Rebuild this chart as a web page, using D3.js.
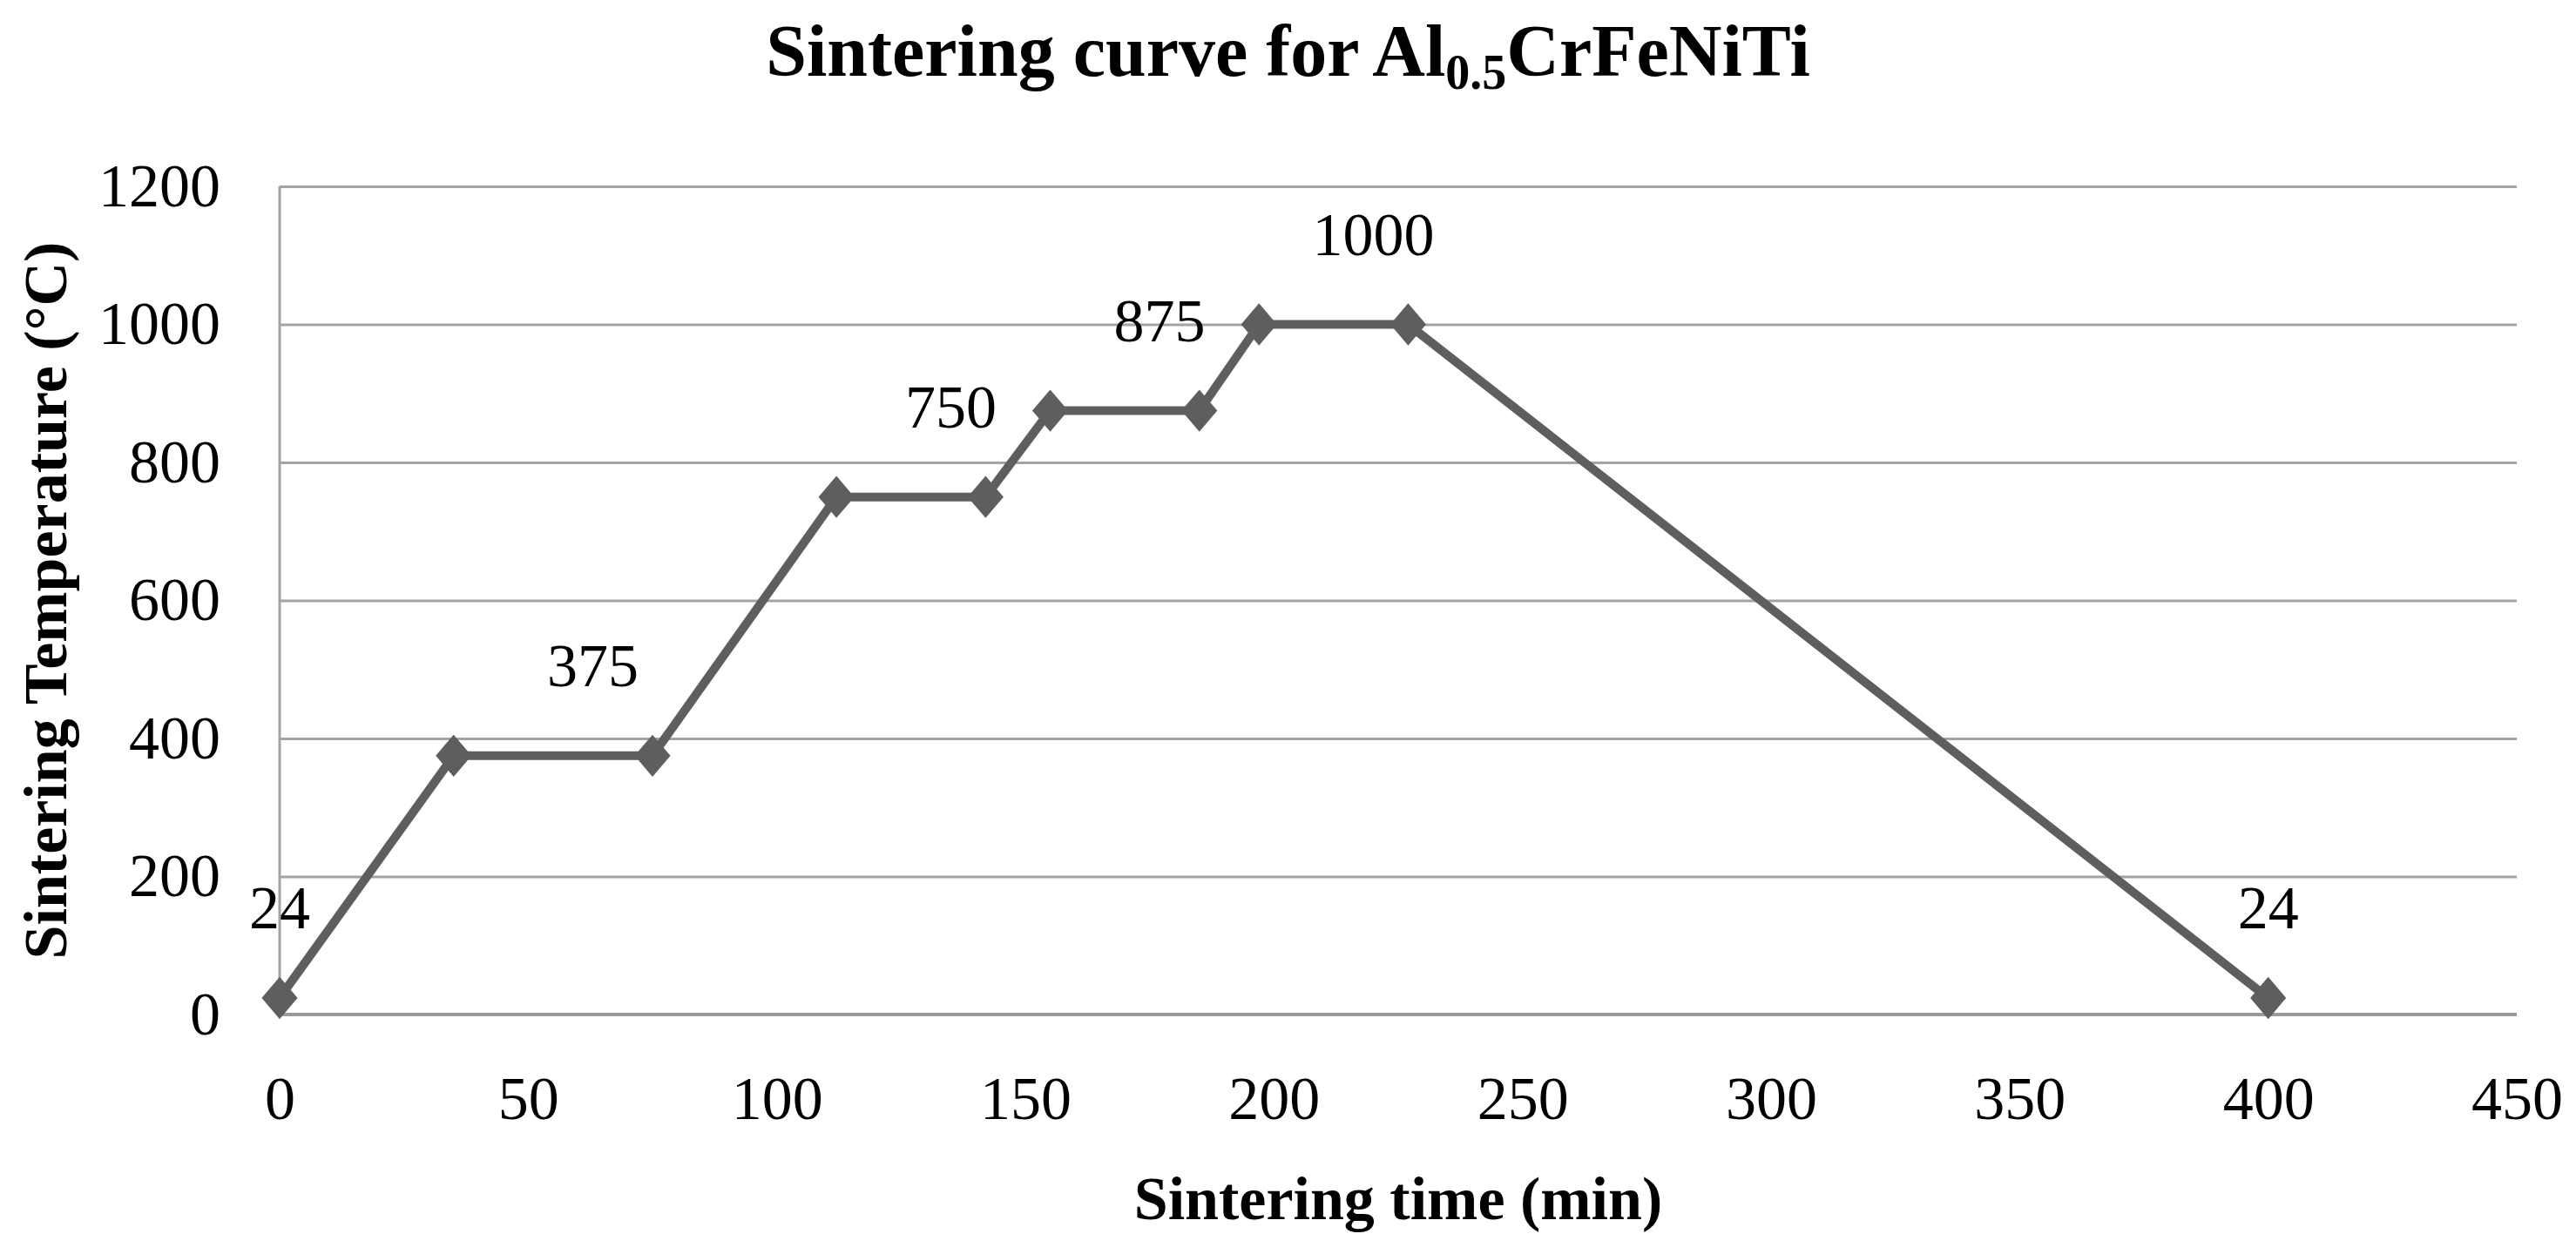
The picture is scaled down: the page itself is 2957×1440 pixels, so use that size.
<!DOCTYPE html>
<html>
<head>
<meta charset="utf-8">
<script src="https://cdn.jsdelivr.net/npm/d3@7"></script>
<style>
  body { margin: 0; background: #fff; }
  text { font-family: "Liberation Serif", "Times New Roman", serif; fill: #000; }
</style>
</head>
<body>
<script>
// sintering schedule
let times = [0, 35, 75, 112, 142, 155, 185, 197, 227, 400];
let temps = [24, 375, 375, 750, 750, 875, 875, 1000, 1000, 24];

// data labels (where they sit along time) and their text values
let labelTimes = [0, 63, 135, 177, 220, 400];
let labelTemps = [24, 375, 750, 875, 1000, 24];

let xTicks = [0, 50, 100, 150, 200, 250, 300, 350, 400, 450];
let yTicks = [0, 200, 400, 600, 800, 1000, 1200];

let W = 2957, H = 1440;
let plotLeft = 321, plotRight = 2889, plotTop = 214, plotBottom = 1165;

let svg = d3.select("body").append("svg")
  .attr("width", W).attr("height", H);

let x = d3.scaleLinear().domain([0, 450]).range([plotLeft, plotRight]);
let y = d3.scaleLinear().domain([0, 1200]).range([plotBottom, plotTop]);

// horizontal gridlines
let grid = svg.append("g").attr("transform", "translate(" + plotLeft + ",0)")
  .call(d3.axisLeft(y).tickValues(yTicks).tickSize(-(plotRight - plotLeft)).tickFormat(""));
grid.select(".domain").remove();
grid.selectAll("line").attr("stroke", "#a3a3a3").attr("stroke-width", 3);

// left axis line
svg.append("line")
  .attr("x1", plotLeft).attr("x2", plotLeft).attr("y1", plotTop).attr("y2", plotBottom)
  .attr("stroke", "#a3a3a3").attr("stroke-width", 3);
// bottom axis line
svg.append("line")
  .attr("x1", plotLeft).attr("x2", plotRight).attr("y1", plotBottom).attr("y2", plotBottom)
  .attr("stroke", "#9a9a9a").attr("stroke-width", 4);

// y tick labels
let yAxis = svg.append("g").attr("transform", "translate(" + plotLeft + ",0)")
  .call(d3.axisLeft(y).tickValues(yTicks).tickSize(0).tickPadding(68).tickFormat(d3.format("d")));
yAxis.select(".domain").remove();
yAxis.selectAll("text")
  .attr("font-size", 70).attr("fill", "#000")
  .attr("font-family", "Liberation Serif").attr("dy", "0.32em");

// x tick labels
let xAxis = svg.append("g").attr("transform", "translate(0," + plotBottom + ")")
  .call(d3.axisBottom(x).tickValues(xTicks).tickSize(0).tickPadding(70).tickFormat(d3.format("d")));
xAxis.select(".domain").remove();
xAxis.selectAll("text")
  .attr("font-size", 70).attr("fill", "#000")
  .attr("font-family", "Liberation Serif");

let points = times.map(function (t, i) { return [t, temps[i]]; });

// the curve
svg.append("path")
  .datum(points)
  .attr("fill", "none")
  .attr("stroke", "#5e5e5e")
  .attr("stroke-width", 10)
  .attr("stroke-linejoin", "round")
  .attr("d", d3.line()
    .x(function (d) { return x(d[0]); })
    .y(function (d) { return y(d[1]); }));

// diamond markers
let diamond = d3.symbol().type(d3.symbolSquare).size(1000);
svg.append("g").selectAll("path")
  .data(points)
  .enter().append("path")
  .attr("d", diamond)
  .attr("fill", "#5e5e5e")
  .attr("transform", function (d) {
    return "translate(" + x(d[0]) + "," + y(d[1]) + ") scale(0.92,1.08) rotate(45)";
  });

// data labels
svg.append("g").selectAll("text")
  .data(labelTimes)
  .enter().append("text")
  .attr("x", function (d) { return x(d); })
  .attr("y", function (d, i) { return y(labelTemps[i]) - 80; })
  .attr("text-anchor", "middle")
  .attr("font-size", 70)
  .text(function (d, i) { return labelTemps[i]; });

// title with subscript
let title = svg.append("text")
  .attr("x", W / 2).attr("y", 87)
  .attr("text-anchor", "middle")
  .attr("font-size", 84).attr("font-weight", "bold");
title.append("tspan").text("Sintering curve for Al");
title.append("tspan").attr("font-size", 56).attr("dy", 15).text("0.5");
title.append("tspan").attr("dy", -15).text("CrFeNiTi");

// axis titles
svg.append("text")
  .attr("x", (plotLeft + plotRight) / 2).attr("y", 1400)
  .attr("text-anchor", "middle")
  .attr("font-size", 70).attr("font-weight", "bold")
  .text("Sintering time (min)");

svg.append("text")
  .attr("transform", "translate(76," + (plotTop + plotBottom) / 2 + ") rotate(-90)")
  .attr("text-anchor", "middle")
  .attr("font-size", 70).attr("font-weight", "bold")
  .text("Sintering Temperature (°C)");
</script>
</body>
</html>
